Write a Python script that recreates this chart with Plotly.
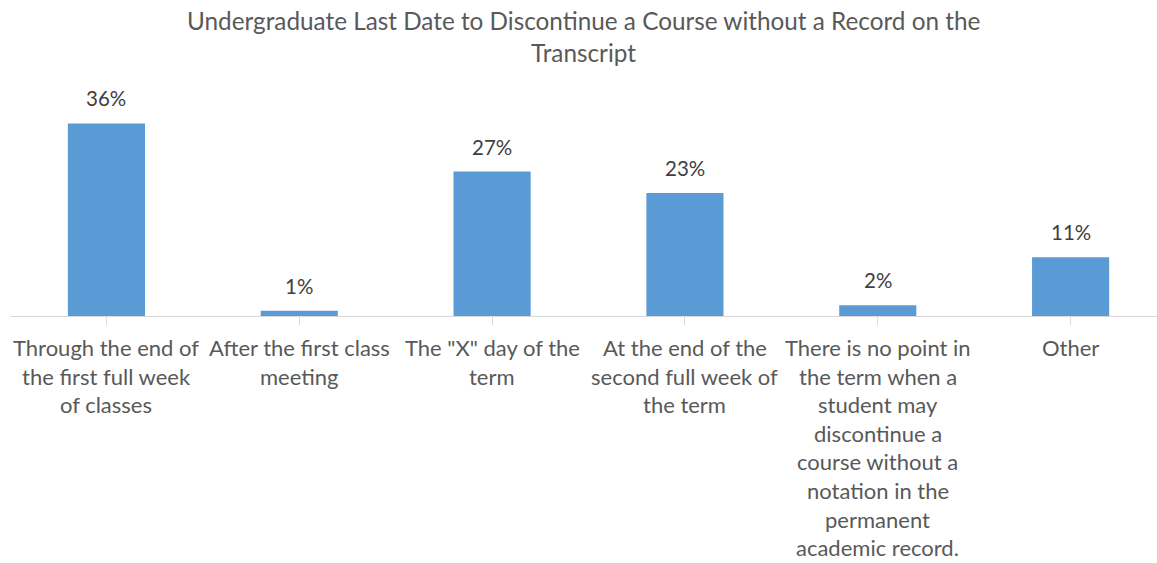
import plotly.graph_objects as go

# Survey responses: last date to drop a course without transcript notation
categories = [
    "Through the end of the first full week of classes",
    "After the first class meeting",
    'The "X" day of the term',
    "At the end of the second full week of the term",
    "There is no point in the term when a student may discontinue a course without a notation in the permanent academic record.",
    "Other",
]
label_lines = [
    ["Through the end of", "the first full week", "of classes"],
    ["After the first class", "meeting"],
    ['The "X" day of the', "term"],
    ["At the end of the", "second full week of", "the term"],
    ["There is no point in", "the term when a", "student may", "discontinue a",
     "course without a", "notation in the", "permanent", "academic record."],
    ["Other"],
]
percent = [36, 1, 27, 23, 2, 11]

title_lines = [
    "Undergraduate Last Date to Discontinue a Course without a Record on the",
    "Transcript",
]

FONT = "Lato"
BAR = "#5B9BD5"
TEXT = "#595959"
TOP_MARGIN = 102

x_idx = list(range(len(categories)))

fig = go.Figure(
    go.Bar(
        x=x_idx,
        y=percent,
        width=0.4,
        marker=dict(color=BAR, line=dict(width=0)),
        hovertext=categories,
    )
)

annotations = []
# value labels above each bar
for i, v in enumerate(percent):
    annotations.append(dict(
        x=i, y=v, xref="x", yref="y", text=f"{v}%", showarrow=False,
        yanchor="bottom", yshift=11,
        font=dict(family=FONT, size=20.5, color="#404040"),
    ))
# category labels, one line at a time for Excel-like line spacing
for i, lines in enumerate(label_lines):
    for j, line in enumerate(lines):
        annotations.append(dict(
            x=i, y=0, xref="x", yref="paper", text=line, showarrow=False,
            xanchor="center", yanchor="middle", yshift=-31.5 - 28.6 * j,
            font=dict(family=FONT, size=22, color=TEXT),
        ))
# two-line chart title
for j, line in enumerate(title_lines):
    annotations.append(dict(
        x=0.5, y=1, xref="paper", yref="paper", text=line, showarrow=False,
        xanchor="center", yanchor="middle", yshift=TOP_MARGIN - 20 - 32 * j,
        font=dict(family=FONT, size=24.3, color=TEXT),
    ))

fig.update_layout(
    width=1157,
    height=563,
    margin=dict(l=10, r=0, t=TOP_MARGIN, b=247),
    paper_bgcolor="white",
    plot_bgcolor="white",
    showlegend=False,
    annotations=annotations,
    xaxis=dict(
        range=[-0.5, 5.448],
        tickmode="array",
        tickvals=x_idx,
        showticklabels=False,
        ticks="outside",
        tickson="boundaries",
        ticklen=8,
        tickcolor="#D9D9D9",
        showline=True,
        linecolor="#D9D9D9",
        linewidth=1,
        showgrid=False,
        zeroline=False,
    ),
    yaxis=dict(
        range=[0, 40],
        visible=False,
        showgrid=False,
        zeroline=False,
    ),
)

fig.write_html("out.html")
